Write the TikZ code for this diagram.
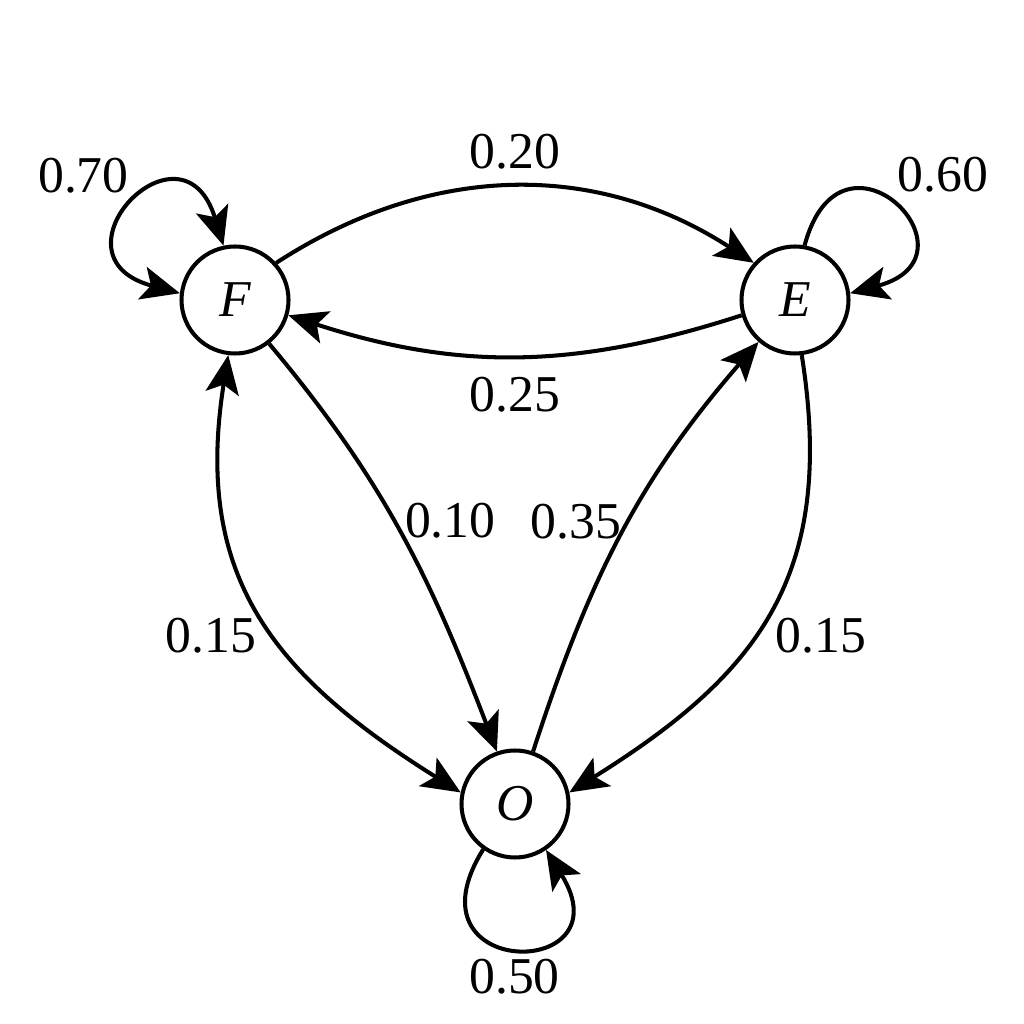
\documentclass[tikz,border=0pt]{standalone}
\usepackage{fontspec}
\setmainfont{Liberation Serif}
\usetikzlibrary{arrows.meta}
\begin{document}
\begin{tikzpicture}[
  state/.style={circle,draw,line width=1.15pt,minimum size=1.07cm,inner sep=0pt,font=\fontsize{14.7}{17}\selectfont\itshape},
  edge/.style={line width=1.15pt},
  lbl/.style={font=\fontsize{14.7}{17}\selectfont,inner sep=2pt},
  >={Stealth[length=11pt,width=9.5pt,inset=2.5pt]}
]
\useasboundingbox (0,0) rectangle (10.24,10.24);
\node[state] (F) at (2.35,7.24) {F};
\node[state] (E) at (7.95,7.24) {E};
\node[state] (O) at (5.15,2.20) {O};

% F <-> E
\draw[edge,->] (F.42) to[out=33,in=147] node[lbl,above,inner sep=4.5pt]{0.20} (E.138);
\draw[edge,->] (E.196) to[out=-162,in=-18] node[lbl,below,inner sep=5.5pt]{0.25} (F.-16);
% inner edges
\draw[edge,->] (F.-52) to[out=-50,in=111] node[lbl,pos=0.46,right,inner sep=2.5pt]{0.10} (O.109);
\draw[edge,->] (O.71) to[out=72,in=-131] node[lbl,pos=0.53,left,inner sep=1.5pt]{0.35} (E.-131);
% outer edges
\draw[edge,<->] (F.-97) to[out=-99,in=148,looseness=1.15] node[lbl,pos=0.56,left,inner sep=5pt]{0.15} (O.168);
\draw[edge,->] (E.-83) to[out=-81,in=32,looseness=1.15] node[lbl,pos=0.56,right,inner sep=5.5pt]{0.15} (O.12);
% self loops
\draw[edge,<->] (F.102) to[out=107,in=165,distance=1.42cm] node[lbl,anchor=south east,inner sep=0pt,xshift=-0.04cm,yshift=0.1cm]{0.70} (F.173);
\draw[edge,->] (E.80) to[out=75,in=15,distance=1.42cm] node[lbl,anchor=south west,inner sep=0pt,xshift=0.03cm,yshift=0.1cm]{0.60} (E.7);
\draw[edge,->] (O.-125) to[out=-122,in=-58,distance=1.55cm] node[lbl,below,inner sep=2.5pt]{0.50} (O.-56);
\end{tikzpicture}
\end{document}
